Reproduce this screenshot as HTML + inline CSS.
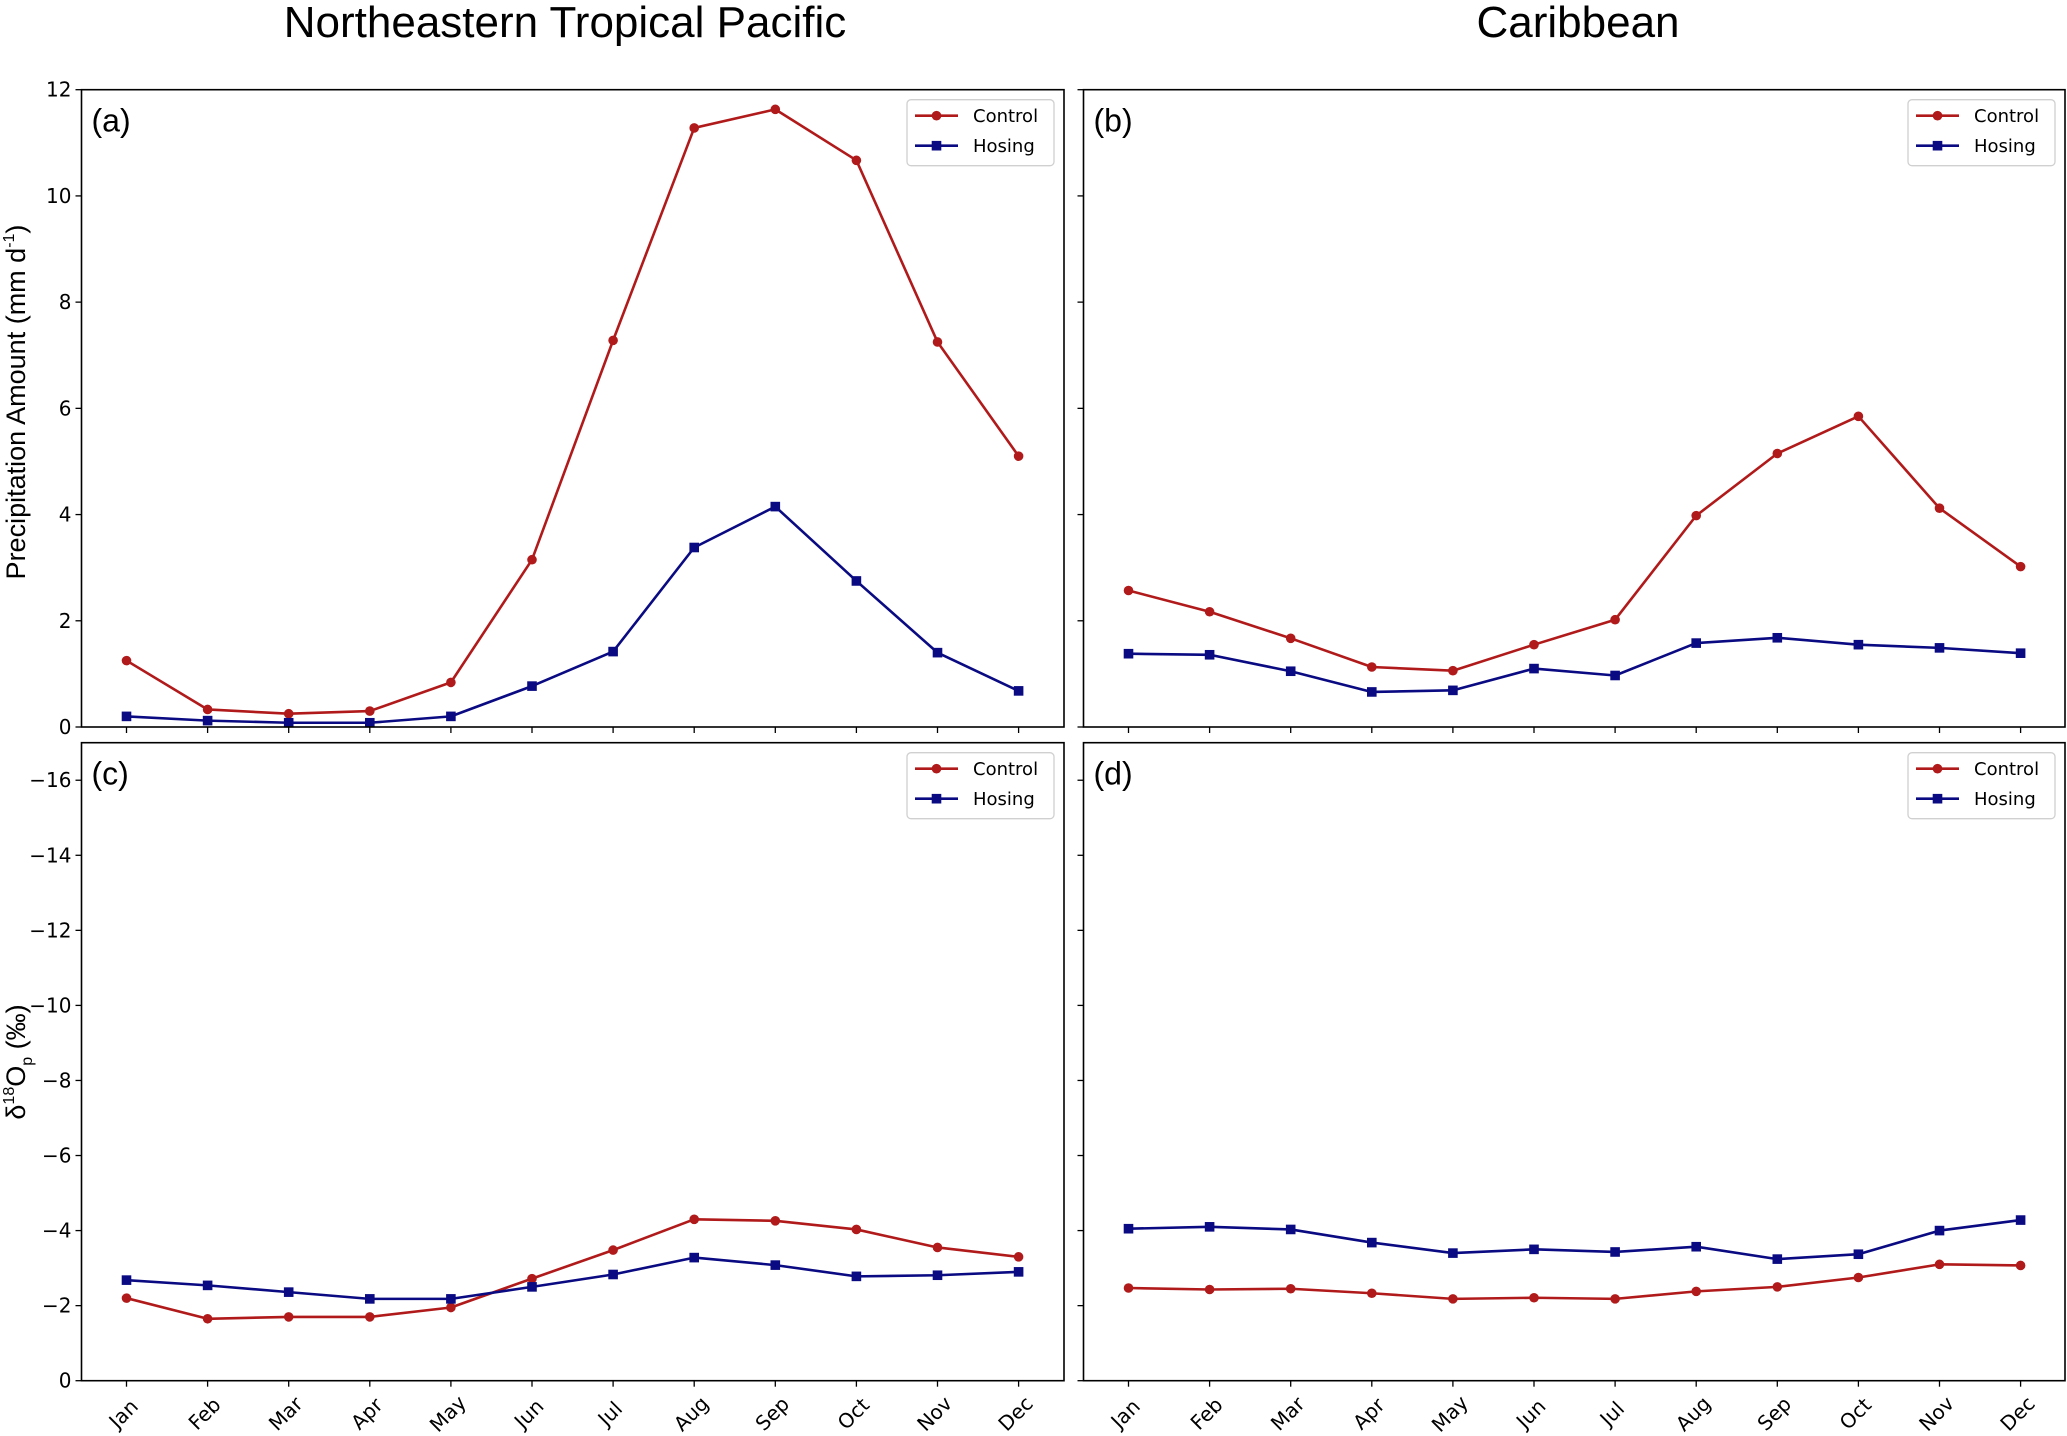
<!DOCTYPE html>
<html><head><meta charset="utf-8"><style>
html,body{margin:0;padding:0;background:#fff;}
svg{display:block;}
.tk{font-family:"DejaVu Sans",sans-serif;font-size:20px;fill:#000;}
.lg{font-family:"DejaVu Sans",sans-serif;font-size:18px;fill:#000;}
.tt{font-family:"Liberation Sans",sans-serif;font-size:44px;fill:#000;}
.pl{font-family:"Liberation Sans",sans-serif;font-size:32px;fill:#000;}
.yt{font-family:"Liberation Sans",sans-serif;font-size:27px;fill:#000;}
</style></head><body>
<svg id="fig" width="2067" height="1436" viewBox="0 0 2067 1436" xmlns="http://www.w3.org/2000/svg">
<text class="tt" x="565" y="37" text-anchor="middle">Northeastern Tropical Pacific</text>
<text class="tt" x="1578" y="37" text-anchor="middle">Caribbean</text>
<text class="yt" transform="translate(25,402) rotate(-90)" text-anchor="middle">Precipitation Amount (mm d<tspan font-size="16" dy="-11">-1</tspan><tspan dy="11">)</tspan></text>
<text class="yt" transform="translate(25,1062) rotate(-90)" text-anchor="middle">δ<tspan font-size="16" dy="-11">18</tspan><tspan dy="11">O</tspan><tspan font-size="16" dy="7">p</tspan><tspan dy="-7"> (‰)</tspan></text>
</svg>
<script>
const months=["Jan","Feb","Mar","Apr","May","Jun","Jul","Aug","Sep","Oct","Nov","Dec"];
const aControl=[1.25,0.33,0.25,0.3,0.84,3.15,7.28,11.28,11.63,10.67,7.25,5.1];
const aHosing=[0.2,0.12,0.08,0.08,0.2,0.77,1.42,3.38,4.15,2.75,1.4,0.68];
const bControl=[2.57,2.17,1.67,1.13,1.06,1.55,2.02,3.98,5.15,5.85,4.12,3.02];
const bHosing=[1.38,1.36,1.05,0.66,0.69,1.1,0.97,1.58,1.68,1.55,1.49,1.39];
const cControl=[-2.2,-1.65,-1.7,-1.7,-1.95,-2.72,-3.48,-4.3,-4.26,-4.03,-3.55,-3.3];
const cHosing=[-2.68,-2.54,-2.36,-2.18,-2.18,-2.5,-2.83,-3.28,-3.08,-2.78,-2.81,-2.9];
const dControl=[-2.47,-2.43,-2.45,-2.33,-2.18,-2.21,-2.18,-2.38,-2.5,-2.75,-3.1,-3.07];
const dHosing=[-4.05,-4.1,-4.03,-3.68,-3.4,-3.5,-3.43,-3.57,-3.24,-3.37,-4.0,-4.28];
const precipTicks=[0,2,4,6,8,10,12];
const isoTicks=[0,-2,-4,-6,-8,-10,-12,-14,-16];
const isoTickLabels=["0","\u22122","\u22124","\u22126","\u22128","\u221210","\u221212","\u221214","\u221216"];

const NS="http://www.w3.org/2000/svg";
const svg=document.getElementById('fig');
const RED="#b11a1a", BLUE="#0a0a82";
function mk(tag,attrs,parent){const e=document.createElementNS(NS,tag);for(const k in attrs)e.setAttribute(k,attrs[k]);(parent||svg).appendChild(e);return e;}

function panel(cfg){
  const g=mk('g',{});
  
  
  const {x0,x1,y0,y1,vmin,vmax}=cfg;
  const xJan=x0+45, step=81.1;
  const xs=i=>xJan+i*step;
  const ys=v=>y1-(v-vmin)/(vmax-vmin)*(y1-y0);
  cfg.yticks.forEach((t,i)=>{
    const y=ys(t);
    const l=mk('line',{x1:x0-6,x2:x0,y1:y,y2:y,stroke:'#000','stroke-width':1.3},g);
    
    
    if(cfg.ylabels){
      const tx=mk('text',{x:x0-10,y:y+7,'text-anchor':'end',class:'tk'},g);
      
      
      tx.textContent=cfg.ylabels[i];
    }
  });
  months.forEach((m,i)=>{
    const x=xs(i);
    const l=mk('line',{x1:x,x2:x,y1:y1,y2:y1+6,stroke:'#000','stroke-width':1.3},g);
    
    
    if(cfg.xlabels){
      const tx=mk('text',{x:0,y:0,'text-anchor':'middle','dominant-baseline':'middle',class:'tk',transform:`translate(${x-2},${y1+34}) rotate(-45)`},g);
      
      
      tx.textContent=m;
    }
  });
  function series(vals,color,marker,name){
    const sg=mk('g',{},g);
    
    
    mk('polyline',{points:vals.map((v,i)=>xs(i)+','+ys(v)).join(' '),fill:'none',stroke:color,'stroke-width':2.6,'stroke-linejoin':'round'},sg);
    vals.forEach((v,i)=>{
      let p;
      if(marker==='o') p=mk('circle',{cx:xs(i),cy:ys(v),r:4.8,fill:color},sg);
      else p=mk('rect',{x:xs(i)-4.8,y:ys(v)-4.8,width:9.6,height:9.6,fill:color},sg);
      
      
    });
  }
  series(cfg.control,RED,'o','control');
  series(cfg.hosing,BLUE,'s','hosing');
  const fr=mk('rect',{x:x0,y:y0,width:x1-x0,height:y1-y0,fill:'none',stroke:'#000','stroke-width':1.6},g);
  
  
  const lab=mk('text',{x:x0+10,y:y0+42,class:'pl'},g);
  
  
  lab.textContent='('+cfg.id+')';
  const lg=mk('g',{},g);
  
  
  const lx=x1-157, ly=y0+10;
  mk('rect',{x:lx,y:ly,width:147,height:66,rx:4,fill:'#fff','fill-opacity':0.85,stroke:'#d0d0d0','stroke-width':1.3},lg);
  [[RED,'o','Control',26],[BLUE,'s','Hosing',56]].forEach(([c,mkr,t,dy])=>{
    const e=mk('g',{},lg);
    
    
    const yy=y0+dy;
    mk('line',{x1:lx+8,x2:lx+51,y1:yy,y2:yy,stroke:c,'stroke-width':2.6},e);
    if(mkr==='o') mk('circle',{cx:lx+29.5,cy:yy,r:4.8,fill:c},e);
    else mk('rect',{x:lx+24.7,y:yy-4.8,width:9.6,height:9.6,fill:c},e);
    const tx=mk('text',{x:lx+66,y:yy+6.5,class:'lg'},e);
    tx.textContent=t;
  });
}
panel({id:'a',x0:81.5,x1:1064,y0:89.7,y1:727,vmin:0,vmax:12,yticks:precipTicks,ylabels:precipTicks.map(String),xlabels:false,control:aControl,hosing:aHosing});
panel({id:'b',x0:1083.5,x1:2065,y0:89.7,y1:727,vmin:0,vmax:12,yticks:precipTicks,ylabels:null,xlabels:false,control:bControl,hosing:bHosing});
panel({id:'c',x0:81.5,x1:1064,y0:742.7,y1:1380.7,vmin:0,vmax:-17,yticks:isoTicks,ylabels:isoTickLabels,xlabels:true,control:cControl,hosing:cHosing});
panel({id:'d',x0:1083.5,x1:2065,y0:742.7,y1:1380.7,vmin:0,vmax:-17,yticks:isoTicks,ylabels:null,xlabels:true,control:dControl,hosing:dHosing});
</script>
</body></html>
